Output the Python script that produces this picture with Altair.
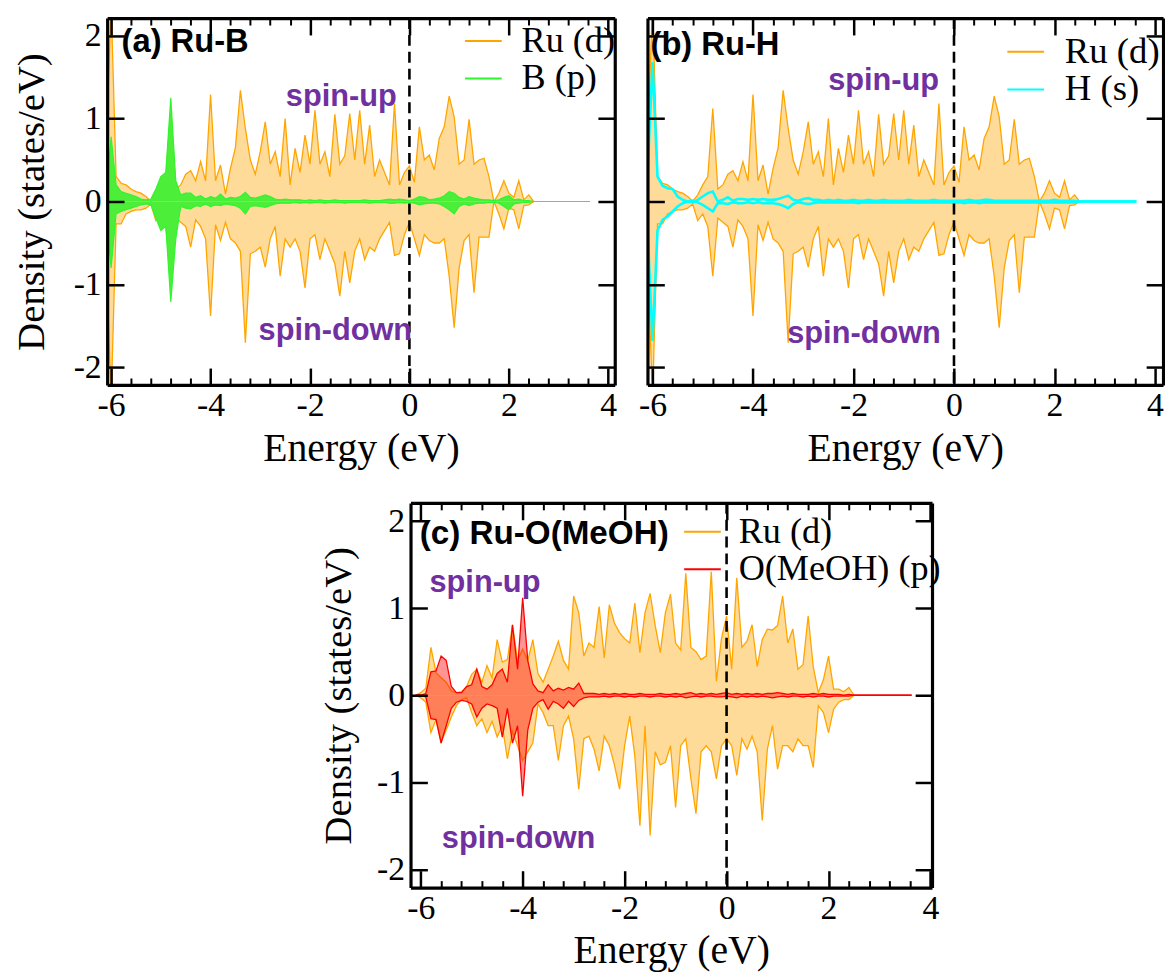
import altair as alt
import pandas as pd

# ---------------- data ----------------
# energy grid (eV) of the projected DOS, uniform sampling
E_START = -6.1
E_STEP = 0.1
N_PTS = 87
ENERGY = [round(E_START + E_STEP * i, 2) for i in range(N_PTS)]
TAIL_E = 3.63  # the adsorbate curves are drawn flat at zero up to here

# Ru (d) in panels (a) and (b) (same curve in both panels)
RU_AB_UP = [
    0.60, 2.40, 0.30, 0.22, 0.20, 0.15, 0.12, 0.10, 0.06, 0.00,
    0.08, 0.20, 0.30, 1.12, 0.15, 0.20, 0.33, 0.37, 0.25, 0.48,
    0.25, 1.29, 0.25, 0.44, 0.09, 0.40, 0.65, 1.34, 0.88, 0.50,
    0.33, 0.60, 0.96, 0.45, 0.60, 0.30, 1.00, 0.20, 0.64, 0.35,
    0.80, 0.45, 1.10, 0.45, 0.60, 0.30, 1.05, 0.45, 0.55, 1.06,
    0.50, 1.10, 0.45, 0.92, 0.30, 0.50, 0.35, 0.20, 1.18, 0.20,
    0.35, 0.43, 0.23, 0.90, 0.50, 0.56, 0.38, 0.76, 0.90, 1.27,
    1.02, 0.45, 0.50, 0.99, 0.45, 0.50, 0.52, 0.30, 0.00, 0.10,
    0.25, 0.10, 0.05, 0.25, 0.02, 0.08, 0.00,
]
RU_AB_DOWN = [
    -0.60, -2.40, -0.27, -0.27, -0.15, -0.12, -0.10, -0.10, -0.08, -0.03,
    -0.23, -0.15, -0.30, -0.90, -0.20, -0.25, -0.30, -0.55, -0.22, -0.30,
    -0.45, -1.38, -0.28, -0.47, -0.25, -0.45, -0.50, -0.60, -1.70, -0.63,
    -0.60, -0.55, -0.79, -0.45, -0.30, -0.90, -0.45, -0.55, -0.45, -0.60,
    -1.04, -0.45, -0.40, -0.70, -0.45, -0.60, -0.75, -1.14, -0.60, -0.98,
    -0.60, -0.45, -0.70, -0.55, -0.60, -0.45, -0.35, -0.25, -0.65, -0.63,
    -0.40, -0.25, -0.45, -0.65, -0.40, -0.47, -0.50, -0.50, -0.45, -0.90,
    -1.52, -0.80, -0.47, -0.40, -1.10, -0.43, -0.43, -0.43, 0.00, -0.15,
    -0.33, -0.08, -0.10, -0.33, -0.05, -0.04, 0.00,
]
# B (p), panel (a)
B_UP = [
    0.10, 0.78, 0.20, 0.12, 0.10, 0.08, 0.06, 0.03, 0.02, 0.03,
    0.15, 0.30, 0.35, 1.25, 0.25, 0.08, 0.10, 0.10, 0.05, 0.07,
    0.03, 0.06, 0.04, 0.09, 0.03, 0.05, 0.04, 0.06, 0.11, 0.05,
    0.04, 0.06, 0.08, 0.06, 0.03, 0.02, 0.03, 0.02, 0.02, 0.02,
    0.01, 0.02, 0.01, 0.02, 0.01, 0.01, 0.02, 0.01, 0.01, 0.01,
    0.01, 0.01, 0.02, 0.01, 0.01, 0.01, 0.02, 0.03, 0.02, 0.03,
    0.02, 0.01, 0.03, 0.06, 0.05, 0.02, 0.03, 0.04, 0.07, 0.12,
    0.10, 0.05, 0.03, 0.06, 0.04, 0.03, 0.02, 0.02, 0.01, 0.02,
    0.05, 0.07, 0.02, 0.03, 0.01, 0.01, 0.00,
]
B_DOWN = [
    -0.15, -0.80, -0.15, -0.12, -0.10, -0.08, -0.06, -0.04, -0.03, -0.04,
    -0.20, -0.35, -0.30, -1.21, -0.45, -0.06, -0.08, -0.09, -0.05, -0.06,
    -0.03, -0.06, -0.04, -0.05, -0.03, -0.04, -0.05, -0.08, -0.15, -0.06,
    -0.05, -0.06, -0.07, -0.05, -0.03, -0.02, -0.02, -0.02, -0.01, -0.02,
    -0.01, -0.02, -0.01, -0.01, -0.02, -0.01, -0.01, -0.01, -0.02, -0.01,
    -0.01, -0.01, -0.01, -0.02, -0.01, -0.01, -0.01, -0.02, -0.02, -0.01,
    -0.02, -0.01, -0.02, -0.04, -0.03, -0.02, -0.02, -0.03, -0.06, -0.10,
    -0.15, -0.06, -0.03, -0.05, -0.03, -0.02, -0.02, -0.01, -0.01, -0.02,
    -0.06, -0.10, -0.03, -0.02, -0.01, -0.01, 0.00,
]
# H (s), panel (b)
H_UP = [
    0.30, 1.68, 0.30, 0.19, 0.16, 0.15, 0.06, 0.02, 0.00, -0.01,
    0.02, 0.06, 0.10, 0.12, 0.00, 0.02, 0.05, 0.01, 0.03, 0.03,
    0.02, 0.03, 0.02, 0.03, 0.02, 0.02, 0.03, 0.05, 0.07, 0.02,
    0.01, 0.03, 0.04, 0.02, 0.02, 0.01, 0.02, 0.01, 0.02, 0.01,
    0.01, 0.02, 0.01, 0.01, 0.02, 0.01, 0.01, 0.02, 0.01, 0.01,
    0.01, 0.01, 0.02, 0.01, 0.01, 0.01, 0.01, 0.02, 0.01, 0.01,
    0.01, 0.01, 0.01, 0.01, 0.02, 0.01, 0.01, 0.02, 0.02, 0.01,
    0.01, 0.01, 0.01, 0.01, 0.01, 0.01, 0.01, 0.01, 0.01, 0.01,
    0.01, 0.02, 0.01, 0.01, 0.01, 0.01, 0.00,
]
H_DOWN = [
    -0.30, -1.68, -0.35, -0.22, -0.18, -0.12, -0.06, -0.02, 0.00, 0.01,
    -0.01, -0.04, -0.08, -0.12, -0.02, -0.02, -0.03, -0.01, -0.02, -0.02,
    -0.01, -0.02, -0.01, -0.02, -0.02, -0.02, -0.03, -0.05, -0.08, -0.03,
    -0.01, -0.02, -0.03, -0.02, -0.01, -0.01, -0.01, -0.01, -0.01, -0.01,
    -0.01, -0.01, -0.02, -0.01, -0.01, -0.01, -0.01, -0.01, -0.01, -0.01,
    -0.01, -0.01, -0.01, -0.01, -0.01, -0.01, -0.01, -0.01, -0.01, -0.01,
    -0.01, -0.01, -0.01, -0.02, -0.01, -0.01, -0.02, -0.01, -0.01, -0.01,
    -0.01, -0.01, -0.01, -0.01, -0.01, -0.01, -0.01, -0.01, -0.01, -0.01,
    -0.01, -0.01, -0.01, -0.01, -0.01, -0.01, 0.00,
]
# Ru (d), panel (c)
RU_C_UP = [
    0.00, 0.03, 0.08, 0.55, 0.26, 0.20, 0.15, 0.05, 0.03, 0.04,
    0.10, 0.24, 0.30, 0.15, 0.34, 0.20, 0.64, 0.38, 0.41, 0.81,
    0.40, 0.53, 0.40, 0.64, 0.25, 0.15, 0.30, 0.45, 0.62, 0.40,
    0.30, 1.14, 0.95, 0.45, 0.60, 0.55, 1.02, 0.43, 1.04, 0.83,
    0.72, 0.65, 0.60, 1.06, 0.49, 0.95, 1.17, 0.80, 0.49, 0.95,
    1.16, 0.60, 0.52, 1.40, 0.55, 0.50, 0.41, 0.45, 1.42, 0.16,
    0.65, 0.91, 0.30, 1.35, 0.55, 0.62, 0.81, 0.33, 0.64, 0.76,
    0.75, 0.80, 1.14, 0.60, 0.76, 0.30, 0.35, 0.91, 0.33, 0.03,
    0.18, 0.45, 0.07, 0.07, 0.04, 0.09, 0.00,
]
RU_C_DOWN = [
    0.00, -0.03, -0.08, -0.43, -0.28, -0.54, -0.40, -0.25, -0.12, -0.05,
    -0.03, -0.20, -0.35, -0.27, -0.43, -0.30, -0.48, -0.35, -0.73, -0.42,
    -0.58, -0.75, -0.65, -0.55, -0.10, -0.20, -0.35, -0.35, -0.75, -0.35,
    -0.24, -0.50, -1.08, -0.50, -0.47, -0.62, -0.87, -0.47, -0.58, -0.80,
    -1.08, -0.58, -0.24, -0.70, -1.50, -0.35, -1.61, -0.65, -0.80, -0.77,
    -0.58, -1.29, -0.58, -0.50, -0.96, -1.36, -0.65, -0.58, -0.65, -0.96,
    -0.58, -0.50, -0.58, -0.92, -0.50, -0.62, -0.47, -0.65, -1.44, -0.62,
    -0.35, -0.85, -0.58, -0.58, -0.65, -0.50, -0.58, -0.58, -0.83, -0.12,
    -0.20, -0.43, -0.16, -0.08, -0.05, -0.05, 0.00,
]
# O(MeOH) (p), panel (c)
O_UP = [
    0.00, 0.00, 0.02, 0.27, 0.28, 0.45, 0.40, 0.10, 0.03, 0.03,
    0.10, 0.12, 0.30, 0.10, 0.07, 0.12, 0.25, 0.30, 0.15, 0.81,
    0.30, 1.12, 0.40, 0.13, 0.05, 0.03, 0.12, 0.05, 0.08, 0.06,
    0.09, 0.07, 0.14, 0.02, 0.02, 0.02, 0.01, 0.02, 0.01, 0.02,
    0.01, 0.02, 0.01, 0.01, 0.02, 0.01, 0.01, 0.01, 0.02, 0.01,
    0.01, 0.02, 0.01, 0.02, 0.03, 0.01, 0.02, 0.01, 0.02, 0.01,
    0.02, 0.03, 0.01, 0.02, 0.01, 0.02, 0.01, 0.02, 0.01, 0.02,
    0.02, 0.03, 0.02, 0.01, 0.02, 0.01, 0.01, 0.01, 0.02, 0.01,
    0.02, 0.01, 0.01, 0.01, 0.00, 0.01, 0.00,
]
O_DOWN = [
    0.00, 0.00, -0.02, -0.27, -0.28, -0.55, -0.35, -0.15, -0.08, -0.06,
    -0.07, -0.10, -0.25, -0.15, -0.10, -0.12, -0.15, -0.48, -0.15, -0.55,
    -0.35, -1.16, -0.40, -0.15, -0.08, -0.05, -0.16, -0.07, -0.10, -0.15,
    -0.07, -0.13, -0.06, -0.03, -0.02, -0.02, -0.02, -0.01, -0.02, -0.01,
    -0.01, -0.02, -0.01, -0.02, -0.01, -0.01, -0.02, -0.01, -0.01, -0.02,
    -0.01, -0.02, -0.01, -0.03, -0.02, -0.01, -0.02, -0.01, -0.01, -0.02,
    -0.02, -0.01, -0.02, -0.03, -0.01, -0.02, -0.01, -0.02, -0.01, -0.02,
    -0.03, -0.02, -0.01, -0.02, -0.01, -0.01, -0.02, -0.01, -0.02, -0.01,
    -0.01, -0.02, -0.01, -0.01, -0.01, -0.01, 0.00,
]

X_MAJOR = [-6, -4, -2, 0, 2, 4]
X_MINOR = [-5.6, -5.2, -4.8, -4.4, -3.6, -3.2, -2.8, -2.4, -1.6, -1.2,
           -0.8, -0.4, 0.4, 0.8, 1.2, 1.6, 2.4, 2.8, 3.2, 3.6]
Y_MAJOR = [-2, -1, 0, 1, 2]
Y_DOMAIN = [-2.21, 2.21]

# ---------------- styling ----------------
SERIF = "Liberation Serif"
SANS = "Liberation Sans"
ORANGE = "#FFA500"
PURPLE = "#7030A0"
LABEL_EXPR = "'' + datum.value"


def labeled_x():
    return alt.Axis(orient="bottom", values=X_MAJOR, labelExpr=LABEL_EXPR,
                    labelFont=SERIF, labelFontSize=34, labelColor="black",
                    labelPadding=4, labelFlush=False, labelOverlap=False,
                    ticks=False, tickSize=0, domain=False, grid=False,
                    title="Energy (eV)", titleFont=SERIF, titleFontSize=40,
                    titleFontWeight="normal", titleColor="black", titlePadding=6)


def labeled_y(title_pad):
    return alt.Axis(orient="left", values=Y_MAJOR, labelExpr=LABEL_EXPR,
                    labelFont=SERIF, labelFontSize=34, labelColor="black",
                    labelPadding=6, labelOverlap=False,
                    ticks=False, tickSize=0, domain=False, grid=False,
                    title="Density (states/eV)", titleFont=SERIF, titleFontSize=39,
                    titleFontWeight="normal", titleColor="black", titlePadding=title_pad)


def tick_axis(orient, values, size, width, offset, domain):
    return alt.Axis(orient=orient, values=values, labels=False, ticks=True,
                    tickSize=size, tickWidth=width, tickColor="black",
                    domain=domain, domainColor="black", domainWidth=3.2,
                    offset=offset, grid=False, title=None, zindex=2)


def panel(p):
    W, H = p["w"], p["h"]
    xsc = alt.Scale(domain=p["xdom"], nice=False, zero=False)
    ysc = alt.Scale(domain=Y_DOMAIN, nice=False, zero=False)
    n = len(ENERGY)
    ru = pd.DataFrame({"E": ENERGY, "up": p["ru_up"], "down": p["ru_down"]})
    ex = ENERGY + [TAIL_E]
    sp = pd.DataFrame({"E": ex, "up": p["x_up"] + [0.0], "down": p["x_down"] + [0.0]})
    ru_long = pd.DataFrame({"E": ENERGY * 2, "val": p["ru_up"] + p["ru_down"],
                            "spin": ["up"] * n + ["down"] * n, "species": "Ru (d)"})
    m = len(ex)
    sp_long = pd.DataFrame({"E": ex * 2, "val": p["x_up"] + [0.0] + p["x_down"] + [0.0],
                            "spin": ["up"] * m + ["down"] * m, "species": p["x_name"]})
    anchor = pd.DataFrame({"E": [0.0], "v": [0.0]})

    cscale = alt.Scale(domain=["Ru (d)", p["x_name"]], range=[ORANGE, p["x_color"]])
    lg = p["legend"]
    legend = alt.Legend(orient="none", legendX=lg["x"], legendY=lg["y"], title=None,
                        direction="vertical", symbolType="stroke", symbolSize=1369,
                        symbolStrokeWidth=2, labelFont=SERIF, labelFontSize=lg["fs"],
                        labelColor="black", labelOffset=lg["off"], rowPadding=lg["rp"],
                        padding=0, labelLimit=400)

    def X():
        return alt.X("E:Q", scale=xsc, axis=None)

    layers = []
    layers.append(alt.Chart(ru).mark_area(color=ORANGE, opacity=0.4, clip=True).encode(
        x=X(), y=alt.Y("up:Q", scale=ysc, axis=None), y2=alt.datum(0)))
    layers.append(alt.Chart(ru).mark_area(color=ORANGE, opacity=0.4, clip=True).encode(
        x=X(), y=alt.Y("down:Q", scale=ysc, axis=None), y2=alt.datum(0)))
    layers.append(alt.Chart(ru_long).mark_line(strokeWidth=1.3, clip=True).encode(
        x=X(), y=alt.Y("val:Q", scale=ysc, axis=None),
        color=alt.Color("species:N", scale=cscale, legend=legend), detail="spin:N"))
    if p["x_fill"]:
        for col in ("up", "down"):
            layers.append(alt.Chart(sp).mark_area(color=p["x_fill"], opacity=p["x_fill_op"],
                                                  clip=True).encode(
                x=X(), y=alt.Y(f"{col}:Q", scale=ysc, axis=None), y2=alt.datum(0)))
    layers.append(alt.Chart(sp_long).mark_line(strokeWidth=p["x_lw"], clip=True).encode(
        x=X(), y=alt.Y("val:Q", scale=ysc, axis=None),
        color=alt.Color("species:N", scale=cscale, legend=legend), detail="spin:N"))
    # Fermi level
    layers.append(alt.Chart(anchor).mark_rule(color="black", strokeWidth=2.6,
                                              strokeDash=[11, 6]).encode(x=X()))
    # annotations
    for (txt, e, v, font, size, color, align) in p["texts"]:
        tdf = pd.DataFrame({"E": [e], "v": [v], "t": [txt]})
        layers.append(alt.Chart(tdf).mark_text(font=font, fontSize=size, fontWeight="bold",
                                               color=color, align=align, baseline="middle").encode(
            x=X(), y=alt.Y("v:Q", scale=ysc, axis=None), text="t:N"))
    # axes: labelled ones plus inward ticks on all four sides
    axes = [
        (labeled_x(), labeled_y(p["ytp"]) if p["ylabels"] else None),
        (tick_axis("top", X_MAJOR, 17, 2.5, -H, True), tick_axis("right", Y_MAJOR, 17, 2.5, -W, True)),
        (tick_axis("bottom", X_MAJOR, 17, 2.5, -H, True), tick_axis("left", Y_MAJOR, 17, 2.5, -W, True)),
        (tick_axis("top", X_MINOR, 7, 2, -H, False), None),
        (tick_axis("bottom", X_MINOR, 7, 2, -H, False), None),
    ]
    for ax, ay in axes:
        layers.append(alt.Chart(anchor).mark_point(opacity=0).encode(
            x=alt.X("E:Q", scale=xsc, axis=ax), y=alt.Y("v:Q", scale=ysc, axis=ay)))
    return alt.layer(*layers).properties(width=W, height=H).resolve_axis(
        x="independent", y="independent")


pa = panel(dict(w=512, h=370, xdom=[-6.08, 4.13], ru_up=RU_AB_UP, ru_down=RU_AB_DOWN,
                x_up=B_UP, x_down=B_DOWN, x_name="B (p)", x_color="#2EF52E",
                x_fill="#4DEE3A", x_fill_op=1.0, x_lw=1.2, ylabels=True, ytp=22,
                legend=dict(x=360, y=3.5, fs=36.5, off=19, rp=0),
                texts=[("(a) Ru-B", -5.79, 1.92, SANS, 33, "black", "left"),
                       ("spin-up", -1.37, 1.26, SANS, 31, PURPLE, "center"),
                       ("spin-down", -1.49, -1.56, SANS, 31, PURPLE, "center")]))
pb = panel(dict(w=520, h=370, xdom=[-6.10, 4.16], ru_up=RU_AB_UP, ru_down=RU_AB_DOWN,
                x_up=H_UP, x_down=H_DOWN, x_name="H (s)", x_color="#00FFFF",
                x_fill=None, x_fill_op=0, x_lw=2.6, ylabels=False, ytp=0,
                legend=dict(x=362, y=14.5, fs=37, off=20, rp=0),
                texts=[("(b) Ru-H", -6.04, 1.89, SANS, 33, "black", "left"),
                       ("spin-up", -1.40, 1.45, SANS, 31, PURPLE, "center"),
                       ("spin-down", -1.79, -1.60, SANS, 31, PURPLE, "center")]))
pc = panel(dict(w=526, h=388, xdom=[-6.20, 4.03], ru_up=RU_C_UP, ru_down=RU_C_DOWN,
                x_up=O_UP, x_down=O_DOWN, x_name="O(MeOH) (p)", x_color="#FF0000",
                x_fill="#FF0000", x_fill_op=0.42, x_lw=1.3, ylabels=True, ytp=18,
                legend=dict(x=275, y=9.5, fs=36.5, off=17, rp=0),
                texts=[("(c) Ru-O(MeOH)", -6.02, 1.85, SANS, 33.5, "black", "left"),
                       ("spin-up", -4.74, 1.29, SANS, 31, PURPLE, "center"),
                       ("spin-down", -4.08, -1.65, SANS, 31, PURPLE, "center")]))

spacer = alt.Chart(pd.DataFrame({"E": [0.0], "v": [0.0]})).mark_point(opacity=0).encode(
    x=alt.X("E:Q", axis=None), y=alt.Y("v:Q", axis=None)).properties(width=214, height=10)

row1 = alt.hconcat(pa, pb, spacing=21).resolve_scale(
    color="independent", x="independent", y="independent")
row2 = alt.hconcat(spacer, pc, spacing=0).resolve_scale(
    color="independent", x="independent", y="independent")
chart = alt.vconcat(row1, row2, spacing=33).resolve_scale(
    color="independent", x="independent", y="independent").properties(
    padding={"left": 4, "top": 4, "right": 0, "bottom": 0}
).configure_view(strokeWidth=0)

chart.save("out.html", embed_options={"renderer": "svg", "actions": False})
